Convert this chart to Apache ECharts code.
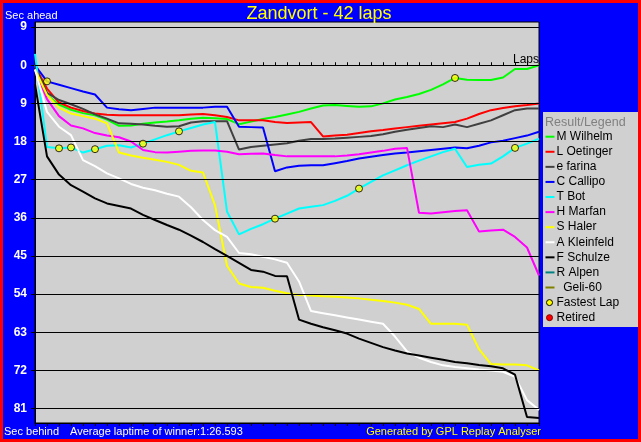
<!DOCTYPE html>
<html><head><meta charset="utf-8">
<script src="https://cdn.jsdelivr.net/npm/echarts@6/dist/echarts.min.js"></script>
<style>html,body{margin:0;padding:0;background:#0000FF;}#c{width:641px;height:442px;}</style>
</head><body><div id="c"></div>
<script>
// ---------------- DATA ----------------
const laps = [0,1,2,3,4,5,6,7,8,9,10,11,12,13,14,15,16,17,18,19,20,21,22,23,24,25,26,27,28,29,30,31,32,33,34,35,36,37,38,39,40,41,42];
const drivers = ['M Wilhelm','L Oetinger','e farina','C Callipo','T Bot','H Marfan','S Haler','A Kleinfeld','F Schulze','R Alpen','  Geli-60'];
const driverColors = ['#00FF00','#FF0000','#404040','#0000FF','#00FFFF','#FF00FF','#FFFF00','#FFFFFF','#000000','#008080','#808000'];
// seconds behind the leader at the end of each lap (negative = ahead)
const wilhelm   = [0,7,9.3,10.5,11.3,11.8,12.8,14.3,14.2,13.8,13.5,13.3,13,12.6,12.4,12.5,12.7,13.9,13.3,12.7,12.2,11.6,11,10.2,9.5,9.4,9.6,9.8,9.7,9,8.1,7.5,6.8,5.8,4.5,3,3.4,3.5,3.5,2.9,0.9,0.9,0];
const oetinger  = [0.3,5.5,8.8,10,10.8,11.4,11.7,11.8,11.8,11.8,11.8,11.8,11.8,11.6,11.5,11.8,12.2,13,13,13,13.4,13.6,13.5,13.4,16.8,16.6,16.4,16,15.6,15.3,14.9,14.6,14.3,14,13.7,13.4,12.6,11.5,10.6,10.1,9.7,9.4,9];
const farina    = [0.3,6.5,8.2,9.2,10.3,11.6,12.6,13.7,13.8,14,14.3,14.5,14.4,13.5,13.2,13.2,13.2,19.9,19.3,19,18.7,18.4,17.8,17.4,17.4,17.3,17.1,16.9,16.7,16.3,15.7,15.2,14.8,14.4,14.6,14,14.6,13.8,13,11.8,10.6,10.2,10.2];
const callipo   = [0,3.8,4.6,5.4,6.2,6.9,10,10.4,10.6,10.3,10,10,10,10,10,9.8,9.8,14.5,14.6,14.7,25,24.1,23.7,23.6,23.6,23.1,22.6,22,21.6,21.2,20.8,20.6,20.3,20,19.7,19.4,19.6,19,18.2,17.8,17.2,16.6,15.7];
const bot       = [-2.7,19.3,19.6,19.4,20.6,19.8,19,18.9,19.4,18.5,17.5,16.5,15.6,14.8,14,13.4,34.5,39.9,38.6,37.5,36.2,35,33.8,33.4,33,32,30.8,29.1,27.5,26,24.8,23.6,22.5,21.5,20.5,19.7,24,23.5,23.2,21.5,19.5,18.5,17.3];
const marfan    = [1,8,12,14.2,14.9,16,16.6,17,18,20,20.5,20.6,20.4,20.2,20.1,20.1,20.4,21,20.9,20.8,21.2,21.5,21.5,21.5,21.5,21.5,21.3,21,20.6,20.2,19.7,19.5,34.8,35,34.7,34.4,34.2,39.2,39,38.8,40.5,43,49.6];
const haler     = [1,7,10,11.4,12,12.6,13.7,20.6,21.3,21.8,22.3,22.8,23.5,24.9,25.3,33,47.3,51.5,52.3,52.5,53.2,53.8,54.2,54.3,54.5,54.6,54.8,55,55.3,55.6,56,56.5,57.5,61,61,61,61.2,67,70.5,70.6,70.6,70.8,72];
const kleinfeld = [1,11,14.5,16.5,22.4,23.8,25.5,26.7,28,28.9,29.5,30.3,31,33.5,36.5,38.9,40.5,44.3,44.6,45.2,45.8,46.6,51,58,58.5,59,59.5,60,60.5,61,64,67.5,69,70,70.8,71.2,71.5,71.8,72,72.3,73.5,79,81.3];
const schulze   = [4.5,21.5,25.8,28.3,29.8,31.4,32.6,33.2,33.8,35.3,36.5,37.7,38.8,40.2,41.7,43.4,45,46.6,48.3,48.7,49.7,49.8,60,61,61.8,62.5,63.3,64.5,65.5,66.5,67.3,68,68.5,69,69.5,70,70.3,70.7,71,71.5,73,83,83.2];
const alpen     = [];
const geli      = [];
const driverValues = [wilhelm, oetinger, farina, callipo, bot, marfan, haler, kleinfeld, schulze, alpen, geli];
// fastest laps: lap number and driver who set it
const fastestLapLaps    = [1,2,3,5,9,12,20,27,35,40];
const fastestLapDrivers = ['C Callipo','T Bot','T Bot','T Bot','T Bot','T Bot','T Bot','T Bot','M Wilhelm','T Bot'];
const retiredLaps = [];
const retiredDrivers = [];
const yTickValues = [-9,0,9,18,27,36,45,54,63,72,81];
const legendTitle = 'Result/Legend';
const extraLegend = ['Fastest Lap','Retired'];
const titleText = 'Zandvort - 42 laps';
const avgText = 'Average laptime of winner:1:26.593';

// ---------------- CHART ----------------
const FONT = '"Liberation Sans", Arial, sans-serif';
const chart = echarts.init(document.getElementById('c'), null, {renderer:'canvas'});

const lineSeries = drivers.map((name, i) => ({
  type: 'line', name: name,
  data: driverValues[i].map((v, j) => [laps[j], v]),
  symbol: 'none', showSymbol: false,
  lineStyle: {color: driverColors[i], width: 2},
  itemStyle: {color: driverColors[i]},
  z: 3, animation: false, silent: true
}));

const fastestData = fastestLapLaps.map((lap, k) => {
  const di = drivers.indexOf(fastestLapDrivers[k]);
  return [lap, driverValues[di][laps.indexOf(lap)]];
});
const retiredData = retiredLaps.map((lap, k) => {
  const di = drivers.indexOf(retiredDrivers[k]);
  return [lap, driverValues[di][laps.indexOf(lap)]];
});

const gridSeries = {
  type: 'line', data: [[0, 0]], symbol: 'none', lineStyle: {opacity: 0}, z: 1, silent: true, animation: false,
  markLine: {silent: true, symbol: 'none', animation: false, label: {show: false},
    lineStyle: {color: '#000', width: 1, type: 'solid'},
    data: yTickValues.map(v => ({yAxis: v}))}
};

// legend as graphics
const legendChildren = [];
const LX = 543, LY = 112, ROW = 15.08, FIRST = 136.7;
legendChildren.push({type: 'rect', shape: {x: LX, y: LY, width: 95, height: 215}, style: {fill: '#D0D0D0'}});
legendChildren.push({type: 'text', x: 545, y: 122.7, style: {text: legendTitle, fill: '#808080', font: '12.5px ' + FONT, textVerticalAlign: 'middle'}});
drivers.forEach((name, i) => {
  const y = FIRST + i * ROW;
  legendChildren.push({type: 'rect', shape: {x: 545.5, y: y - 1, width: 9, height: 2}, style: {fill: driverColors[i]}});
  legendChildren.push({type: 'text', x: 556.5, y: y, style: {text: name, fill: '#000', font: '12px ' + FONT, textVerticalAlign: 'middle'}});
});
const fy = FIRST + drivers.length * ROW;
legendChildren.push({type: 'circle', shape: {cx: 549.5, cy: fy, r: 3}, style: {fill: '#FFFF00', stroke: '#000', lineWidth: 1}});
legendChildren.push({type: 'text', x: 556.5, y: fy, style: {text: extraLegend[0], fill: '#000', font: '12px ' + FONT, textVerticalAlign: 'middle'}});
const ry = fy + ROW;
legendChildren.push({type: 'circle', shape: {cx: 549.5, cy: ry, r: 3}, style: {fill: '#FF0000', stroke: '#800000', lineWidth: 1}});
legendChildren.push({type: 'text', x: 556.5, y: ry, style: {text: extraLegend[1], fill: '#000', font: '12px ' + FONT, textVerticalAlign: 'middle'}});

const option = {
  backgroundColor: '#0000FF',
  animation: false,
  grid: {left: 35, right: 102, top: 22, bottom: 19, show: true, backgroundColor: '#D0D0D0', borderColor: '#000', borderWidth: 1, containLabel: false},
  xAxis: [
    {type: 'value', min: 0, max: 42, interval: 1, position: 'bottom',
      axisLine: {show: true, onZero: true, lineStyle: {color: '#000', width: 1}},
      axisTick: {show: true, inside: true, length: 3, lineStyle: {color: '#000'}},
      axisLabel: {show: false}, splitLine: {show: false}},
    {type: 'value', min: 0, max: 42, interval: 1, position: 'bottom',
      axisLine: {show: true, onZero: true, lineStyle: {color: '#000', width: 1}},
      axisTick: {show: true, inside: false, length: 3, lineStyle: {color: '#000'}},
      axisLabel: {show: false}, splitLine: {show: false}}
  ],
  yAxis: {type: 'value', inverse: true, min: -10.2, max: 84.4,
    axisLine: {show: true, lineStyle: {color: '#000'}},
    axisTick: {show: true, length: 4, customValues: yTickValues, lineStyle: {color: '#000'}},
    axisLabel: {customValues: yTickValues, formatter: v => String(Math.abs(v)), color: '#FFFFFF', fontWeight: 'bold', fontSize: 12, fontFamily: FONT, margin: 8},
    splitLine: {show: false}},
  series: [gridSeries].concat(lineSeries).concat([
    {type: 'scatter', name: 'Fastest Lap', data: fastestData, symbol: 'circle', symbolSize: 7,
      itemStyle: {color: '#FFFF00', borderColor: '#000', borderWidth: 1}, z: 5, silent: true, animation: false},
    {type: 'scatter', name: 'Retired', data: retiredData, symbol: 'circle', symbolSize: 7,
      itemStyle: {color: '#FF0000', borderColor: '#800000', borderWidth: 1}, z: 5, silent: true, animation: false}
  ]),
  graphic: [
    {type: 'rect', shape: {x: 1.5, y: 1.5, width: 638, height: 439}, style: {fill: null, stroke: '#FF0000', lineWidth: 3}, z: 100},
    {type: 'text', x: 319, y: 13.7, style: {text: titleText, fill: '#FFFF00', font: '18px ' + FONT, textAlign: 'center', textVerticalAlign: 'middle'}},
    {type: 'text', x: 5, y: 16, style: {text: 'Sec ahead', fill: '#FFFFFF', font: '11px ' + FONT, textVerticalAlign: 'middle'}},
    {type: 'text', x: 4, y: 431.5, style: {text: 'Sec behind', fill: '#FFFFFF', font: '11px ' + FONT, textVerticalAlign: 'middle'}},
    {type: 'text', x: 70, y: 431.5, style: {text: avgText, fill: '#FFFFFF', font: '11px ' + FONT, textVerticalAlign: 'middle'}},
    {type: 'text', x: 541, y: 431.5, style: {text: 'Generated by GPL Replay Analyser', fill: '#FFFF00', font: '11px ' + FONT, textAlign: 'right', textVerticalAlign: 'middle'}},
    {type: 'text', x: 539, y: 60, z: 50, style: {text: 'Laps', fill: '#000', font: '12px ' + FONT, textAlign: 'right', textVerticalAlign: 'middle'}},
    {type: 'group', children: legendChildren}
  ]
};
chart.setOption(option);
</script></body></html>
